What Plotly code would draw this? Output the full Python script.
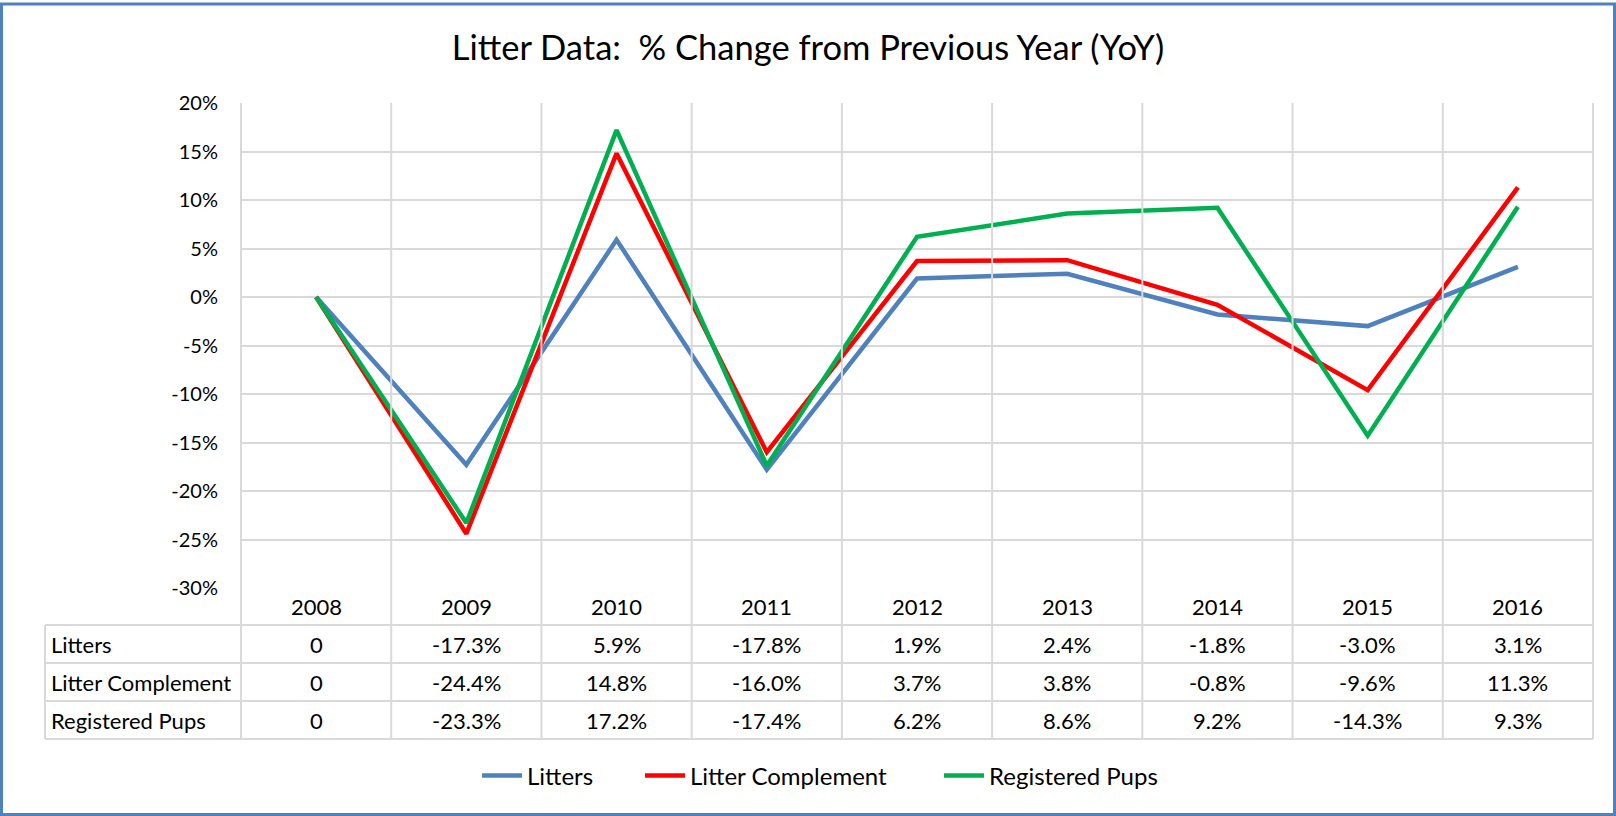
import plotly.graph_objects as go

years = ["2008", "2009", "2010", "2011", "2012", "2013", "2014", "2015", "2016"]
litters = [0, -17.3, 5.9, -17.8, 1.9, 2.4, -1.8, -3.0, 3.1]
litter_complement = [0, -24.4, 14.8, -16.0, 3.7, 3.8, -0.8, -9.6, 11.3]
registered_pups = [0, -23.3, 17.2, -17.4, 6.2, 8.6, 9.2, -14.3, 9.3]
series_names = ["Litters", "Litter Complement", "Registered Pups"]
series_values = [litters, litter_complement, registered_pups]
series_colors = ["#4F81BD", "#FF0000", "#00B050"]
y_ticks = [-30, -25, -20, -15, -10, -5, 0, 5, 10, 15, 20]
y_tick_labels = ["-30%", "-25%", "-20%", "-15%", "-10%", "-5%", "0%", "5%", "10%", "15%", "20%"]

W, H = 1616, 816
PX_L, PX_R, PX_T, PX_B = 241, 1593, 103, 588
FONT = "Lato"
GRID = "#D9D9D9"
LEGEND_X_PX = [477, 640, 939]


def py(p):
    return (PX_B - p) / (PX_B - PX_T)


def px(p):
    return (p - PX_L) / (PX_R - PX_L)


def fmt(v):
    return "0" if v == 0 else f"{v:.1f}%"


idx = list(range(len(years)))
legend_ids = ["legend", "legend2", "legend3"]
fig = go.Figure()
for name, vals, col, lid in zip(series_names, series_values, series_colors, legend_ids):
    fig.add_trace(go.Scatter(x=idx, y=vals, mode="lines", name=name, legend=lid,
                             line=dict(color=col, width=4.5)))

shapes = []
row_lines = [625, 663, 701, 739]
n = len(years)
for i in range(n + 1):
    shapes.append(dict(type="line", xref="x domain", yref="paper",
                       x0=i / n, x1=i / n, y0=py(739), y1=1,
                       line=dict(color=GRID, width=2)))
shapes.append(dict(type="line", xref="paper", yref="paper",
                   x0=px(45), x1=px(45), y0=py(row_lines[0]), y1=py(row_lines[-1]),
                   line=dict(color=GRID, width=2)))
for r in row_lines:
    shapes.append(dict(type="line", xref="paper", yref="paper",
                       x0=px(45), x1=1, y0=py(r), y1=py(r),
                       line=dict(color=GRID, width=2)))
shapes.append(dict(type="rect", xref="paper", yref="paper",
                   x0=px(1.5), x1=px(1614.5), y0=py(4), y1=py(814.5),
                   line=dict(color="#4F81BD", width=3)))

annotations = []
tfont = dict(family=FONT, size=22, color="#000000")
for i, yr in enumerate(years):
    annotations.append(dict(x=i, y=py(606.5), xref="x", yref="paper", text=yr,
                            showarrow=False, font=tfont, xanchor="center", yanchor="middle"))
for r, (name, vals) in enumerate(zip(series_names, series_values)):
    yc = py((row_lines[r] + row_lines[r + 1]) / 2)
    annotations.append(dict(x=px(49), y=yc, xref="paper", yref="paper", text=name,
                            showarrow=False, font=tfont, xanchor="left", yanchor="middle"))
    for i, v in enumerate(vals):
        annotations.append(dict(x=i, y=yc, xref="x", yref="paper", text=fmt(v),
                                showarrow=False, font=tfont, xanchor="center", yanchor="middle"))


def legend_cfg(xp):
    return dict(orientation="h", x=px(xp), xanchor="left", y=py(776), yanchor="middle",
                font=dict(family=FONT, size=24, color="#000000"),
                itemwidth=40, bgcolor="rgba(0,0,0,0)")


fig.update_layout(
    width=W, height=H,
    margin=dict(l=PX_L, r=W - PX_R, t=PX_T, b=H - PX_B, pad=0, autoexpand=False),
    paper_bgcolor="white", plot_bgcolor="white",
    title=dict(text="Litter Data:  % Change from Previous Year (YoY)",
               x=0.5, xref="container", y=1 - 48 / H, yanchor="middle",
               font=dict(family=FONT, size=34.5, color="#000000")),
    xaxis=dict(range=[-0.5, n - 0.5], showgrid=False, zeroline=False,
               showticklabels=False, showline=False, fixedrange=True),
    yaxis=dict(range=[-30, 20], tickvals=y_ticks, ticktext=y_tick_labels,
               showgrid=True, gridcolor=GRID, gridwidth=2, zeroline=False,
               showline=False, ticks="", ticklabelstandoff=22,
               tickfont=dict(family=FONT, size=20, color="#000000")),
    legend=legend_cfg(LEGEND_X_PX[0]),
    legend2=legend_cfg(LEGEND_X_PX[1]),
    legend3=legend_cfg(LEGEND_X_PX[2]),
    shapes=shapes, annotations=annotations, showlegend=True,
)

fig.write_html("out.html", config={"displayModeBar": False},
               post_script="document.body.style.margin='0px';")
